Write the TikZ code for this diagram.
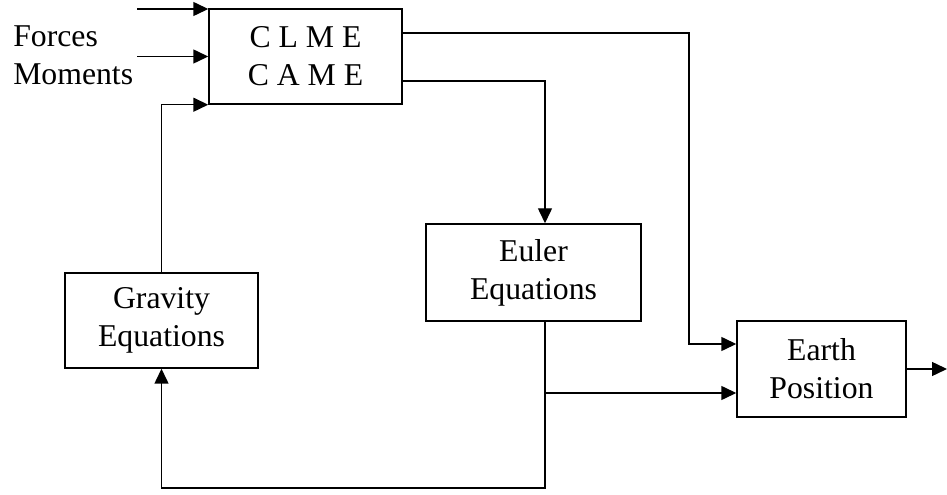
\documentclass[tikz,border=0pt]{standalone}
\usepackage{fontspec}
\setmainfont{Liberation Serif}
\usepackage{tikz}
\usetikzlibrary{arrows.meta}
\usetikzlibrary{calc}
\tikzset{blockbox/.style={draw, line width=1.1pt, rectangle, align=center,
           font=\fontsize{23.8}{28.5}\selectfont},
         sidelabel/.style={anchor=base west, inner sep=0pt, font=\fontsize{23.8}{28.5}\selectfont},
         flow/.style={line width=1.1pt, -{Triangle[length=11.25pt,width=10.5pt]}}}

\begin{document}
\begin{tikzpicture}[x=0.75pt, y=-0.75pt]
\useasboundingbox (0,0) rectangle (947,495);
% blocks
\node[blockbox, minimum width=144.75pt, minimum height=71.25pt] (clme) at (305.5,56.5) {C L M E\\C A M E};
\node[blockbox, minimum width=161.25pt, minimum height=72.75pt] (euler) at (533.5,272.5) {Euler\\Equations};
\node[blockbox, minimum width=144.75pt, minimum height=71.25pt] (grav) at (161.5,320.5) {Gravity\\Equations};
\node[blockbox, minimum width=126.75pt, minimum height=72pt] (earth) at (821.5,369) {Earth\\Position};
% inputs
\node[sidelabel] (forces) at (13,47) {Forces};
\node[sidelabel] (moments) at (13,85) {Moments};
\coordinate (in1) at (137,9);
\coordinate (in2) at (137,56.5);
\draw[flow] (in1) -- (in1 -| clme.west);
\draw[flow] (in2) -- (in2 -| clme.west);
\draw[flow] (grav.north) |- (clme.south west);
% outputs of the momentum block
\coordinate (t1) at (689,33);
\coordinate (t2) at (545,81);
\draw[flow] (clme.east |- t1) -- (t1) |- ($(earth.west)+(0,-25)$);
\draw[flow] (clme.east |- t2) -| (t2 |- euler.north);
% euler feedback
\coordinate (t3) at (545,488);
\coordinate (t4) at (545,393);
\draw[flow] (t2 |- euler.south) -- (t3) -| (grav.south);
\draw[flow] (t4) -- (t4 -| earth.west);
\coordinate (out) at (947,369);
\draw[flow] (earth.east) -- (out);
\end{tikzpicture}
\end{document}
